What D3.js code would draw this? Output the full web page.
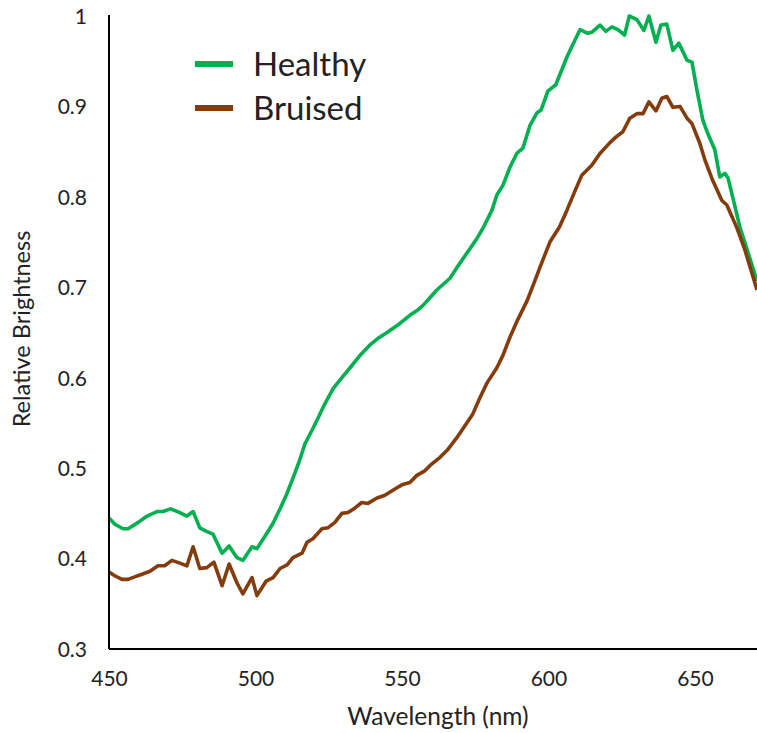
<!DOCTYPE html>
<html>
<head>
<meta charset="utf-8">
<script src="https://cdn.jsdelivr.net/npm/d3@7/dist/d3.min.js"></script>
<style>
  html, body { margin: 0; padding: 0; background: #fff; }
  svg { display: block; }
  text { font-family: Lato, "Open Sans", sans-serif; fill: #222; }
</style>
</head>
<body>
<svg id="chart" width="757" height="733"></svg>
<script>
// ---- data ----
const healthyWl = [450,452,454.8,456.5,460,463,466.4,468.4,471,474,476.6,478.7,481,483.3,485.5,488.6,491,493.7,495.7,498.8,500.5,503.3,506,508.4,510.5,512.8,515,516.9,519,521,523.5,526.5,529.5,532.3,535.5,539,542,544.9,549.3,552.7,555,557.2,560,561.9,566.4,568.8,572.2,575.6,577.6,580.7,582.4,584.5,586.9,589.2,591.3,593.7,596.1,597.5,599.8,602.5,606.5,610.8,613.3,614.8,617.6,619.6,621.7,623.7,626,627.6,630.2,632.6,634.3,636.7,638.4,640.4,642.5,644.5,647.3,649,650.7,652.7,654.4,656.8,658.5,660.2,661.3,663.4,665.4,668,671.2];
const healthyVal = [0.445,0.438,0.433,0.433,0.440,0.447,0.452,0.452,0.455,0.451,0.447,0.452,0.434,0.430,0.427,0.406,0.414,0.401,0.398,0.413,0.411,0.425,0.439,0.455,0.470,0.489,0.508,0.527,0.540,0.553,0.570,0.588,0.600,0.611,0.624,0.636,0.644,0.650,0.660,0.669,0.674,0.680,0.690,0.697,0.710,0.722,0.738,0.754,0.765,0.785,0.802,0.813,0.833,0.848,0.854,0.879,0.893,0.896,0.917,0.924,0.956,0.985,0.981,0.982,0.990,0.983,0.988,0.985,0.979,1.000,0.996,0.984,1.000,0.971,0.990,0.991,0.962,0.970,0.951,0.949,0.918,0.885,0.870,0.852,0.822,0.826,0.821,0.793,0.766,0.740,0.707];

const bruisedWl = [450,452,454.4,456.5,459,461.5,464,466.7,469,471.5,474.2,476.6,478.7,481,483.4,485.8,488.6,491,493.7,495.7,498.8,500.5,503.6,506,508.4,510.8,512.8,515.9,517.6,519.6,522.7,524.7,527.1,529.5,531.6,534,536.3,538.4,541.5,544.2,547.6,550.3,552.7,555.1,557.8,559.6,563,565.5,568.8,571.5,574.2,576.5,579,582.4,584.5,586.9,589.5,592.7,595,597.1,600.5,603.8,606.3,609,611.4,614.8,617.6,621,623,625.4,627.8,630.2,632.3,634.3,636.7,638.7,640.4,642.5,644.9,647.3,649,651.7,653.4,656.1,659.2,660.9,664.3,667.1,671.2];
const bruisedVal = [0.385,0.381,0.377,0.377,0.380,0.383,0.386,0.392,0.392,0.398,0.395,0.392,0.413,0.389,0.390,0.396,0.370,0.394,0.373,0.361,0.379,0.359,0.375,0.379,0.389,0.393,0.401,0.406,0.418,0.422,0.433,0.434,0.440,0.450,0.451,0.456,0.462,0.461,0.467,0.470,0.477,0.482,0.484,0.492,0.497,0.503,0.512,0.520,0.534,0.547,0.560,0.577,0.594,0.611,0.625,0.645,0.664,0.685,0.704,0.722,0.750,0.767,0.785,0.806,0.824,0.835,0.848,0.860,0.866,0.872,0.887,0.892,0.892,0.905,0.895,0.909,0.911,0.899,0.900,0.887,0.881,0.859,0.841,0.818,0.796,0.791,0.766,0.741,0.697];

const xTicks = [450, 500, 550, 600, 650];
const yTicks = [0.3, 0.4, 0.5, 0.6, 0.7, 0.8, 0.9, 1];
const seriesNames = ["Healthy", "Bruised"];
const seriesColors = ["#00b050", "#843c0c"];

// ---- chart ----
const svg = d3.select("#chart");
const x = d3.scaleLinear().domain([450, 671.2]).range([109, 757]);
const y = d3.scaleLinear().domain([0.3, 1]).range([649, 16]);

svg.append("defs").append("clipPath").attr("id", "plot")
  .append("rect").attr("x", 109).attr("y", 0).attr("width", 648).attr("height", 649);

const line = d3.line().x(d => x(d[0])).y(d => y(d[1]));
const series = [
  healthyWl.map((w, i) => [w, healthyVal[i]]),
  bruisedWl.map((w, i) => [w, bruisedVal[i]])
];

const plot = svg.append("g").attr("clip-path", "url(#plot)");
series.forEach((s, i) => {
  plot.append("path").datum(s)
    .attr("d", line)
    .attr("fill", "none")
    .attr("stroke", seriesColors[i])
    .attr("stroke-width", 3.6)
    .attr("stroke-linejoin", "round");
});

// axes
const xAxis = svg.append("g").attr("transform", "translate(0,649)")
  .call(d3.axisBottom(x).tickValues(xTicks).tickSize(0).tickPadding(22).tickFormat(d3.format("d")));
const yAxis = svg.append("g").attr("transform", "translate(109,0)")
  .call(d3.axisLeft(y).tickValues(yTicks).tickSize(0).tickPadding(22).tickFormat(d => d === 1 ? "1" : d3.format(".1f")(d)));
[xAxis, yAxis].forEach(a => {
  a.select(".domain").attr("stroke", "#000").attr("stroke-width", 2);
  a.selectAll("text").attr("font-family", "Lato, 'Open Sans', sans-serif").attr("font-size", 21).attr("fill", "#222");
});
yAxis.selectAll(".tick text").attr("dy", "0.35em");
yAxis.select(".domain").attr("d", `M0,${y(1) - 1}V649`);
xAxis.select(".domain").attr("d", "M0,0H648").attr("transform", "translate(109,0)");

// axis titles
svg.append("text").attr("x", 438).attr("y", 725).attr("text-anchor", "middle")
  .attr("font-size", 24.5).text("Wavelength (nm)");
svg.append("text").attr("transform", "translate(30,329) rotate(-90)").attr("text-anchor", "middle")
  .attr("font-size", 23.5).text("Relative Brightness");

// legend
const legend = svg.append("g");
seriesNames.forEach((n, i) => {
  const ly = 64 + i * 44;
  legend.append("line").attr("x1", 195).attr("x2", 233).attr("y1", ly).attr("y2", ly)
    .attr("stroke", seriesColors[i]).attr("stroke-width", 6);
  legend.append("text").attr("x", 253).attr("y", ly).attr("dy", "0.35em")
    .attr("font-size", 33).text(n);
});
</script>
</body>
</html>
